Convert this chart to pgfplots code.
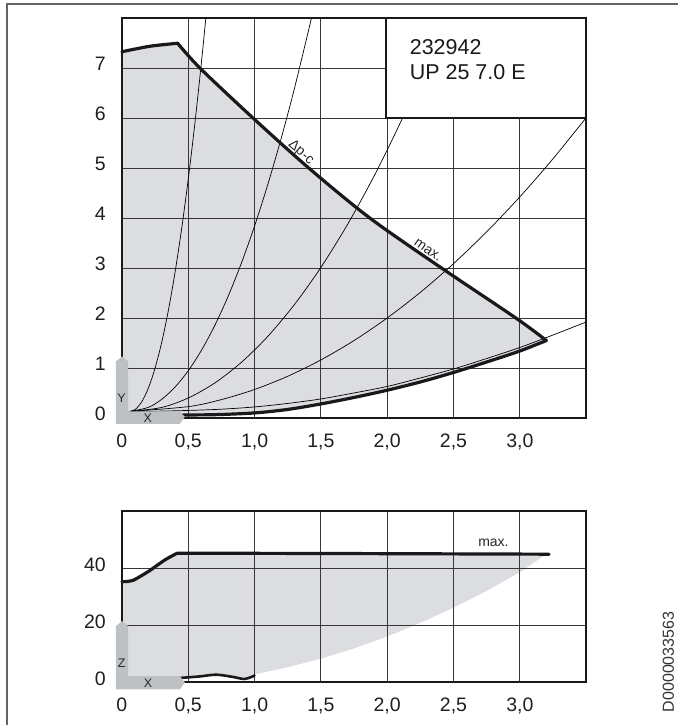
\documentclass[border=0pt]{standalone}
\usepackage{pgfplots}
\pgfplotsset{compat=1.18}
\usepackage{fontspec}
\setmainfont{Liberation Sans}
\definecolor{areagray}{RGB}{220,221,224}
\definecolor{lgray}{RGB}{190,193,196}
\definecolor{gridc}{RGB}{55,55,55}
\definecolor{framec}{RGB}{100,100,100}
\pgfplotsset{
  pumpaxis/.style={
    scale only axis, width=464.7bp, anchor=south west,
    set layers, clip=false,
    xmin=0, xmax=3.5,
    xtick={0,0.5,1,1.5,2,2.5,3},
    xticklabels={0,{0,5},{1,0},{1,5},{2,0},{2,5},{3,0}},
    grid=major, major grid style={gridc, line width=0.9bp},
    major tick length=0pt,
    axis line style={black!90, line width=2.2bp},
    tick label style={font=\fontsize{19.5bp}{22bp}\selectfont, text=black!88, inner sep=0pt},
    xticklabel style={anchor=north, yshift=-15.7bp},
    yticklabel style={anchor=east, xshift=-16bp, yshift=4bp},
    /pgf/number format/assume math mode=true,
  },
  sysc/.style={black, line width=0.7bp, smooth},
  heavyc/.style={black!90, line width=3.2bp, line join=round, line cap=round},
}
\begin{document}
\begin{tikzpicture}
\draw[framec, line width=1.3bp] (679bp,-4bp) -- (7bp,-4bp) -- (7bp,-726bp);

% ---------------- top chart ----------------
\begin{axis}[pumpaxis, at={(122bp,-418.3bp)}, height=400bp,
  ymin=0, ymax=8, ytick={0,1,2,3,4,5,6,7}, yticklabels={0,1,2,3,4,5,6,7}]
\addplot[fill=areagray, draw=none, on layer=axis background] coordinates {
 (0,0.06) (0,7.33) (0.21,7.44) (0.42,7.5) (0.59,7.0) (0.99,6.0) (1.41,5.0) (1.87,4.0)
 (2.41,3.0) (2.97,2.0) (3.2,1.55) (3.0,1.34) (2.75,1.12) (2.5,0.91)
 (2.25,0.72) (2.0,0.555) (1.75,0.41) (1.5,0.28) (1.25,0.17) (1.0,0.1) (0.7,0.065) (0.46,0.06)};
% system curves
\addplot[sysc] coordinates {(0.06,0.13) (0.1,0.168) (0.15,0.324) (0.2,0.6) (0.25,0.996) (0.3,1.512) (0.35,2.148) (0.4,2.904) (0.45,3.78) (0.5,4.776) (0.55,5.892) (0.6,7.128) (0.6326,8.0)};
\addplot[sysc] coordinates {(0.06,0.13) (0.2,0.212) (0.3,0.372) (0.4,0.616) (0.5,0.943) (0.6,1.355) (0.7,1.85) (0.8,2.43) (0.9,3.094) (1.0,3.841) (1.1,4.673) (1.2,5.588) (1.3,6.588) (1.4289,8.0)};
\addplot[sysc] coordinates {(0.06,0.13) (0.3,0.21) (0.5,0.399) (0.7,0.699) (0.9,1.111) (1.1,1.633) (1.3,2.267) (1.5,3.012) (1.7,3.869) (1.9,4.836) (2.1,5.915) (2.3,7.104)};
\addplot[sysc] coordinates {(0.06,0.13) (0.5,0.226) (0.75,0.367) (1.0,0.569) (1.25,0.834) (1.5,1.161) (1.75,1.549) (2.0,2.001) (2.25,2.514) (2.5,3.089) (2.75,3.726) (3.0,4.426) (3.25,5.188) (3.5,6.011)};
\addplot[sysc] coordinates {(0.06,0.13) (0.25,0.135) (0.5,0.15) (0.75,0.175) (1.0,0.22) (1.25,0.29) (1.5,0.38) (1.75,0.5) (2.0,0.63) (2.25,0.8) (2.5,0.98) (2.75,1.19) (3.0,1.41) (3.25,1.66) (3.5,1.92)};
% thick curves
\addplot[heavyc, smooth] coordinates {(0,7.33) (0.21,7.44) (0.42,7.5)};
\addplot[heavyc, smooth] coordinates {(0.42,7.5) (0.59,7.0) (0.99,6.0) (1.41,5.0) (1.87,4.0) (2.41,3.0) (2.97,2.0) (3.2,1.55)};
\addplot[heavyc, smooth] coordinates {(0.46,0.06) (0.7,0.065) (1.0,0.1) (1.25,0.17) (1.5,0.28) (1.75,0.41) (2.0,0.555) (2.25,0.72) (2.5,0.91) (2.75,1.12) (3.0,1.34) (3.2,1.55)};
% axis indicator
\fill[lgray] (-0.045,-0.12) -- (-0.045,1.13) -- (0.001,1.23) -- (0.047,1.13) -- (0.047,0.132) -- (0.437,0.132) -- (0.474,0.02) -- (0.437,-0.12) -- cycle;
\node[font=\fontsize{12.5bp}{13bp}\selectfont, text=black!85, inner sep=0] at (-0.002,0.386) {Y};
\node[font=\fontsize{12.5bp}{13bp}\selectfont, text=black!85, inner sep=0] at (0.196,-0.014) {X};
% curve labels
\node[font=\fontsize{14bp}{14bp}\selectfont, text=black!85, rotate=-41, inner sep=0] at (1.35,5.31) {Δp-c};
\node[font=\fontsize{14bp}{14bp}\selectfont, text=black!85, rotate=-35, inner sep=0] at (2.307,3.36) {max.};
% type box
\filldraw[fill=white, draw=black!90, line width=1.6bp] (1.99,6) rectangle (3.5,8);
\node[anchor=base west, font=\fontsize{21.5bp}{24bp}\selectfont, text=black!90, inner sep=0] at (2.169,7.28) {232942};
\node[anchor=base west, font=\fontsize{21.5bp}{24bp}\selectfont, text=black!90, inner sep=0] at (2.169,6.766) {UP 25 7.0 E};
\end{axis}

% ---------------- bottom chart ----------------
\begin{axis}[pumpaxis, at={(122bp,-683bp)}, height=171.3bp,
  ymin=0, ymax=60, ytick={0,20,40}, yticklabels={0,20,40}]
\addplot[fill=areagray, draw=none, on layer=axis background] coordinates {
 (0,1.55) (0,35.3) (0.04,35.4) (0.085,35.8) (0.14,37.2) (0.21,39.2) (0.27,41.2) (0.337,43.3)
 (0.417,45.3) (1.5,45.2) (3.2,45.0) (3.0,38.6) (2.75,32.1) (2.5,26.2) (2.25,20.9) (2.0,16.1)
 (1.75,11.9) (1.5,8.3) (1.25,5.3) (1.0,2.8) (0.926,1.2) (0.838,1.9) (0.713,2.7) (0.587,2.1) (0.437,1.55)};
\addplot[heavyc, smooth] coordinates {(0,35.3) (0.04,35.4) (0.085,35.8) (0.14,37.2) (0.21,39.2) (0.27,41.2) (0.337,43.3) (0.417,45.3)};
\addplot[heavyc] coordinates {(0.417,45.3) (1.5,45.2) (3.22,44.95)};
\addplot[heavyc, line width=2.6bp, smooth] coordinates {(0.437,1.55) (0.587,2.1) (0.713,2.7) (0.838,1.9) (0.926,1.2) (1.0,2.4)};
\fill[lgray] (-0.045,-2.45) -- (-0.045,19.7) -- (0.001,21.5) -- (0.047,19.7) -- (0.047,2.2) -- (0.437,2.2) -- (0.474,0) -- (0.437,-2.45) -- cycle;
\node[font=\fontsize{12.5bp}{13bp}\selectfont, text=black!85, inner sep=0] at (-0.002,6.65) {Z};
\node[font=\fontsize{12.5bp}{13bp}\selectfont, text=black!85, inner sep=0] at (0.198,-0.35) {X};
\node[anchor=base, font=\fontsize{14bp}{14bp}\selectfont, text=black!85, inner sep=0] at (2.801,47.6) {max.};
\end{axis}

\node[rotate=90, font=\fontsize{16bp}{16bp}\selectfont, text=black!80, inner sep=0] at (669bp,-662.5bp) {D0000033563};
\path (0,0) rectangle (679bp,-726bp);
\end{tikzpicture}
\end{document}
